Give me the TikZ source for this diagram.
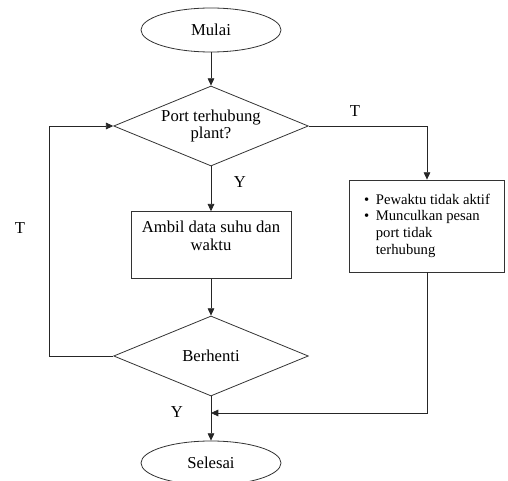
\documentclass[tikz,border=0pt]{standalone}
\usepackage{fontspec}
\setmainfont{Liberation Serif}
\usetikzlibrary{shapes.geometric,arrows.meta}

\begin{document}
\begin{tikzpicture}[x=0.75pt,y=-0.75pt,line width=0.6pt,
  flowline/.style={draw=black!85, -{Triangle[length=5.5pt,width=5pt]}},
  term/.style={ellipse, draw=black!80, minimum width=105pt, minimum height=33pt, font=\fontsize{12.5}{14}\selectfont},
  decide/.style={diamond, draw=black!80, shape aspect=2.4, inner sep=0pt, minimum width=146pt, minimum height=60pt, align=center, font=\fontsize{12.5}{13}\selectfont},
  proc/.style={rectangle, draw=black!80, align=center, font=\fontsize{12.5}{14}\selectfont},
  listbox/.style={rectangle, draw=black!80, font=\fontsize{11}{12.5}\selectfont},
  lbl/.style={font=\fontsize{12.5}{14}\selectfont}]
  \useasboundingbox (0,0) rectangle (508,481);
  \node[term] (mulai) at (211,30) {Mulai};
  \node[decide] (port) at (211,126) {Port terhubung\\plant?};
  \node[proc, minimum width=120pt, minimum height=50pt] (ambil) at (211,245) {Ambil data suhu dan\\waktu\\ \mbox{}};
  \node[decide] (henti) at (211,356) {Berhenti};
  \node[term] (selesai) at (211,463) {Selesai};
  \node[listbox, minimum width=116pt, minimum height=69pt] (pesan) at (427,226) {\begin{tabular}{@{}l@{\hspace{5pt}}l@{}}
    \textbullet & Pewaktu tidak aktif\\
    \textbullet & Munculkan pesan\\
    & port tidak\\
    & terhubung
  \end{tabular}};
  \coordinate (balik) at (49,356);
  \coordinate (gabung) at (211,413);
  \draw[flowline] (mulai) -- (port);
  \draw[flowline] (port) -- (ambil);
  \draw[flowline] (ambil) -- (henti);
  \draw[flowline] (henti) -- (selesai);
  \draw[flowline] (port.east) -| (pesan.north);
  \draw[flowline] (pesan.south) |- (gabung);
  \draw[flowline] (henti.west) -- (balik) |- (port.west);
  \node[lbl] (ya1) at (240,182) {Y};
  \node[lbl] (ya2) at (177,412) {Y};
  \node[lbl] (tidak1) at (355,111) {T};
  \node[lbl] (tidak2) at (20,228) {T};
\end{tikzpicture}
\end{document}
